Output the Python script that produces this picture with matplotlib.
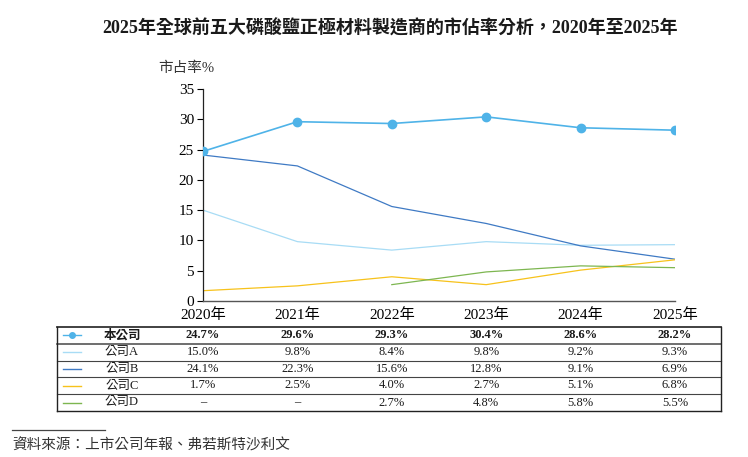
import numpy as np
import matplotlib
matplotlib.use("Agg")
import matplotlib.pyplot as plt
from matplotlib import transforms
from matplotlib.lines import Line2D

plt.rcParams['font.family'] = ['Liberation Serif', 'Noto Sans CJK TC', 'DejaVu Sans']

# data
years = [2020, 2021, 2022, 2023, 2024, 2025]
year_labels = ['2020年', '2021年', '2022年', '2023年', '2024年', '2025年']
names = ['本公司', '公司A', '公司B', '公司C', '公司D']
share_ours = [24.7, 29.6, 29.3, 30.4, 28.6, 28.2]
share_a = [15.0, 9.8, 8.4, 9.8, 9.2, 9.3]
share_b = [24.1, 22.3, 15.6, 12.8, 9.1, 6.9]
share_c = [1.7, 2.5, 4.0, 2.7, 5.1, 6.8]
share_d = [np.nan, np.nan, 2.7, 4.8, 5.8, 5.5]
colors = ['#4FB3E8', '#A8DCF5', '#3F7AC4', '#F7C21B', '#7DB650']

series = [share_ours, share_a, share_b, share_c, share_d]

W, H = 748, 457
fig = plt.figure(figsize=(W / 100, H / 100), dpi=100)


def fy(py):
    # pixel from top -> figure fraction
    return 1 - py / H


def fx(px):
    return px / W


ax = fig.add_axes([fx(203), fy(301), fx(675) - fx(203), fy(89) - fy(301)])

for i, vals in enumerate(series):
    if i == 0:
        ax.plot(years, vals, color=colors[i], lw=1.2, marker='o', ms=6, zorder=5)
    else:
        ax.plot(years, vals, color=colors[i], lw=0.9)

ax.set_xlim(2020, 2025)
ax.set_ylim(0, 35)
ax.set_yticks(range(0, 36, 5))
ax.set_xticks(years)
ax.set_xticklabels(year_labels)
ax.tick_params(axis='x', length=0, pad=5, labelsize=11)
ax.tick_params(axis='y', length=4.5, width=0.8, pad=2, labelsize=11)
for s in ['top', 'right']:
    ax.spines[s].set_visible(False)
ax.spines['left'].set_color('#222222')
ax.spines['bottom'].set_color('#555555')
ax.spines['left'].set_linewidth(0.9)
ax.spines['bottom'].set_linewidth(1.0)

fig.text(0.521, fy(29), '2025年全球前五大磷酸鹽正極材料製造商的市佔率分析，2020年至2025年',
         ha='center', va='center', fontsize=13, fontweight='bold', color='#1a1a1a')
fig.text(fx(158), fy(68), '市占率%', ha='left', va='center', fontsize=10.5, color='#333333')

# table under the chart
row_edges = [326.7, 344, 360.7, 377, 394, 411]
tleft, tright = 57, 721
fig.add_artist(Line2D([fx(tleft), fx(tright)], [fy(row_edges[0])] * 2, color='#333333', lw=1.3))
fig.add_artist(Line2D([fx(tleft), fx(tright)], [fy(row_edges[1])] * 2, color='#555555', lw=1.2))
for e in row_edges[2:-1]:
    fig.add_artist(Line2D([fx(tleft), fx(tright)], [fy(e)] * 2, color='#444444', lw=0.8))
fig.add_artist(Line2D([fx(tleft), fx(tright)], [fy(row_edges[-1])] * 2, color='#222222', lw=1.0))
for xx in [tleft, tright]:
    fig.add_artist(Line2D([fx(xx)] * 2, [fy(row_edges[0]), fy(row_edges[-1])], color='#222222', lw=1.0))

col_tr = transforms.blended_transform_factory(ax.transData, fig.transFigure)
for i, vals in enumerate(series):
    yc = fy((row_edges[i] + row_edges[i + 1]) / 2)
    fig.add_artist(Line2D([fx(63), fx(81)], [yc, yc], color=colors[i], lw=1.0))
    if i == 0:
        fig.add_artist(Line2D([fx(72)], [yc], color=colors[i], marker='o', ms=4, lw=0))
    weight = 'bold' if i == 0 else 'normal'
    fig.text(fx(122), yc, names[i], ha='center', va='center', fontsize=9,
             fontweight=weight, color='#1a1a1a')
    for yr, v in zip(years, vals):
        label = '–' if np.isnan(v) else f'{v:.1f}%'
        ax.text(yr, yc, label, transform=col_tr, ha='center', va='center',
                fontsize=9, fontweight=weight, color='#1a1a1a', clip_on=False)

# source note
fig.add_artist(Line2D([fx(12), fx(105)], [fy(430)] * 2, color='#444444', lw=0.9))
fig.text(fx(12), fy(445), '資料來源：上市公司年報、弗若斯特沙利文', ha='left', va='center',
         fontsize=10.5, color='#333333')

fig.savefig('out.png', dpi=100)
